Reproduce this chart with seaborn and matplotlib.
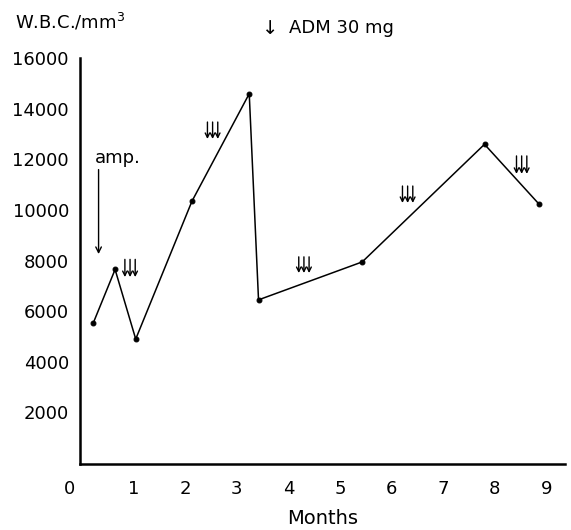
import matplotlib
matplotlib.use("Agg")
import matplotlib.pyplot as plt
import matplotlib.transforms as mtransforms
import seaborn as sns
import pandas as pd

# Data
months = [0.22, 0.64, 1.04, 2.13, 3.24, 3.42, 5.43, 7.80, 8.85]
wbc = [5550, 7650, 4900, 10350, 14600, 6450, 7950, 12600, 10250]

# ADM 30 mg dose markers (triple arrows): month, top and bottom of arrow
dose_months = [0.93, 2.53, 4.30, 6.31, 8.52]
dose_top = [8050, 13480, 8150, 10950, 12140]
dose_bottom = [7350, 12810, 7510, 10280, 11430]

x_ticks = [0, 1, 2, 3, 4, 5, 6, 7, 8, 9]
y_ticks = [2000, 4000, 6000, 8000, 10000, 12000, 14000, 16000]

df = pd.DataFrame({"Months": months, "WBC": wbc})

sns.set_style("white")
plt.rcParams["font.family"] = ["DejaVu Sans"]
plt.rcParams["text.color"] = "black"
plt.rcParams["axes.labelcolor"] = "black"

fig = plt.figure(figsize=(5.71, 5.30), dpi=100)
ax = fig.add_axes([80 / 571, 66.5 / 530, 485 / 571, (463.5 - 58.3) / 530])

sns.lineplot(data=df, x="Months", y="WBC", ax=ax, color="black", linewidth=1.1,
             marker="o", markersize=3.5, markeredgecolor="black", sort=False)

ax.set_xlim(-0.04, 9.36)
ax.set_ylim(-20, 16000)
ax.set_xticks(x_ticks)
ax.set_xticklabels([str(t) for t in x_ticks])
ax.set_yticks(y_ticks)
ax.set_yticklabels([str(t) for t in y_ticks])
ax.tick_params(axis="x", direction="in", length=7, width=1.0, labelsize=13, pad=12, colors="black")
ax.tick_params(axis="y", direction="out", length=6, width=1.0, labelsize=13, pad=2, colors="black")
ax.set_xlabel("Months", fontsize=14)
ax.xaxis.set_label_coords(0.5, -0.112)
ax.set_ylabel("")
for s in ["top", "right"]:
    ax.spines[s].set_visible(False)
for s in ["left", "bottom"]:
    ax.spines[s].set_color("black")
    ax.spines[s].set_linewidth(1.8)

# shift the "0" tick label left of the axis corner, as in the reference
zero_lab = ax.get_xticklabels()[0]
zero_lab.set_transform(zero_lab.get_transform() +
                       mtransforms.ScaledTranslation(-0.13, 0, fig.dpi_scale_trans))
ax.get_xticklines()[0].set_visible(False)

# triple arrows for ADM doses
dx = 0.1
for m, t, b in zip(dose_months, dose_top, dose_bottom):
    for off in (-dx, 0, dx):
        ax.annotate("", xy=(m + off, b), xytext=(m + off, t),
                    arrowprops=dict(arrowstyle="->", color="black", lw=1.0,
                                    shrinkA=0, shrinkB=0, mutation_scale=8))

# amputation arrow
ax.annotate("", xy=(0.32, 8260), xytext=(0.32, 11600),
            arrowprops=dict(arrowstyle="->", color="black", lw=1.0,
                            shrinkA=0, shrinkB=0, mutation_scale=10))
ax.text(0.25, 12050, "amp.", fontsize=13, ha="left", va="center")

# header texts
fig.text(15 / 571, 1 - 22 / 530, "W.B.C./mm$^3$", fontsize=13, ha="left", va="center")
fig.text(270 / 571, 1 - 28 / 530, "\u2193", fontsize=14, ha="center", va="center")
fig.text(289 / 571, 1 - 28 / 530, "ADM 30 mg", fontsize=13, ha="left", va="center")

fig.savefig("out.png", dpi=100)
